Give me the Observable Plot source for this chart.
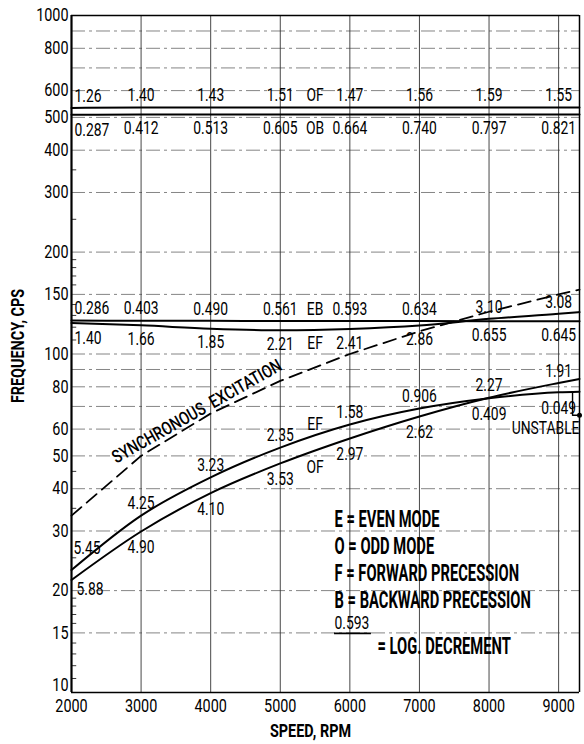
<!DOCTYPE html>
<html><head><meta charset="utf-8">
<script src="https://cdn.jsdelivr.net/npm/d3@7"></script>
<script src="https://cdn.jsdelivr.net/npm/@observablehq/plot@0.6"></script>
<style>body{margin:0;background:#fff;}</style>
</head><body><div id="chart"></div>
<script>
// ---- data ----
const rpm = [2000, 3000, 4000, 5000, 6000, 7000, 8000, 9000, 9300];
const ofTop = [533, 535, 535, 535, 535, 535, 535, 535, 535];
const obTop = [509, 510, 510, 510, 510, 510, 510, 510, 510];
const ebMid = [125.5, 125.4, 125.3, 125.2, 125.2, 125.1, 125.0, 124.9, 124.9];
const efMid = [123.5, 121.5, 118.8, 117.5, 118.5, 121.3, 127.0, 131.5, 133.0];
const efLow = [23.0, 33.3, 43.2, 52.9, 61.9, 69.0, 74.0, 77.1, 77.4];
const ofLow = [21.5, 29.9, 38.8, 47.5, 56.3, 65.4, 74.3, 82.1, 84.4];
const syncExc = [33.3, 50, 66.7, 83.3, 100, 116.7, 133.3, 150, 155];

const labelRpm = [2000, 3000, 4000, 5000, 6000, 7000, 8000, 9000];
const ofTopDec = ["1.26", "1.40", "1.43", "1.51", "1.47", "1.56", "1.59", "1.55"];
const obTopDec = ["0.287", "0.412", "0.513", "0.605", "0.664", "0.740", "0.797", "0.821"];
const ebMidDec = ["0.286", "0.403", "0.490", "0.561", "0.593", "0.634", "0.655", "0.645"];
const efMidDec = ["1.40", "1.66", "1.85", "2.21", "2.41", "2.86", "3.10", "3.08"];
const efLowDec = ["5.45", "4.25", "3.23", "2.35", "1.58", "0.906", "0.409", "0.049"];
const ofLowDec = ["5.88", "4.90", "4.10", "3.53", "2.97", "2.62", "2.27", "1.91"];
const modeRpm = 5500;

const unstableMark = [[9200, 77.2], [9200, 65.9], [9300, 65.9]];
const unstableText = "UNSTABLE";
const syncText = "SYNCHRONOUS  EXCITATION";
const syncTextRpm = 3860;

const xTicks = [2000, 3000, 4000, 5000, 6000, 7000, 8000, 9000];
const xGrid = [3000, 4000, 5000, 6000, 7000, 8000, 9000];
const yTicks = [10, 15, 20, 30, 40, 50, 60, 80, 100, 150, 200, 300, 400, 500, 600, 800, 1000];
const yGrid = [15, 20, 30, 40, 50, 60, 70, 80, 90, 100, 150, 200, 300, 400, 500, 600, 700, 800, 900];
const yMinor = [11, 12, 13, 14, 16, 17, 18, 19, 25, 35, 45, 110, 120, 130, 140, 160, 170, 180, 190, 250, 350];

const legendLines = ["E = EVEN MODE", "O = ODD MODE", "F = FORWARD PRECESSION", "B = BACKWARD PRECESSION"];
const legendSample = "0.593";
const legendUnderline = {rpm1: 5780, rpm2: 6310, value: 14.95};
const legendDecrement = "= LOG. DECREMENT";
const xTitle = "SPEED, RPM";
const yTitle = "FREQUENCY, CPS";

// ---- build tables ----
function valAt(series, r) {
  const i = rpm.indexOf(r);
  if (i >= 0) return series[i];
  const j = rpm.findIndex(v => v > r);
  const t = (r - rpm[j - 1]) / (rpm[j] - rpm[j - 1]);
  return Math.exp(Math.log(series[j - 1]) * (1 - t) + Math.log(series[j]) * t);
}
const pairs = [
  {a: ofTop, b: obTop, aDec: ofTopDec, bDec: obTopDec, aName: "OF", bName: "OB", low: false},
  {a: ebMid, b: efMid, aDec: ebMidDec, bDec: efMidDec, aName: "EB", bName: "EF", low: false},
  {a: efLow, b: ofLow, aDec: efLowDec, bDec: ofLowDec, aName: "EF", bName: "OF", low: true}
];
const labels = [];
for (const p of pairs) {
  for (const [s, o, dec, name] of [[p.a, p.b, p.aDec, p.aName], [p.b, p.a, p.bDec, p.bName]]) {
    labelRpm.forEach((r, i) => {
      const v = valAt(s, r);
      labels.push({rpm: r, value: v, text: dec[i], above: v > valAt(o, r), start: r === 2000, low: p.low});
    });
    const v = valAt(s, modeRpm);
    labels.push({rpm: modeRpm, value: v, text: name, above: v > valAt(o, modeRpm), start: false, low: p.low});
  }
}
const curves = [ofTop, obTop, ebMid, efMid, efLow, ofLow].map(s => rpm.map((r, i) => ({rpm: r, value: s[i]})));
const sync = rpm.map((r, i) => ({rpm: r, value: syncExc[i]}));

const F = "Roboto, sans-serif";
const FS = 18;
const labelGroups = [
  {f: d => d.above && !d.start, dy: -12, dx: 0, anchor: "middle"},
  {f: d => !d.above && !d.start && !d.low, dy: 14, dx: 0, anchor: "middle"},
  {f: d => !d.above && !d.start && d.low, dy: 16, dx: 0, anchor: "middle"},
  {f: d => d.above && d.start && !d.low, dy: -12, dx: 3, anchor: "start"},
  {f: d => !d.above && d.start && !d.low, dy: 15, dx: 3, anchor: "start"},
  {f: d => d.above && d.start && d.low, dy: -22, dx: 2, anchor: "start"},
  {f: d => !d.above && d.start && d.low, dy: 9, dx: 5, anchor: "start"}
];

const chart = Plot.plot({
  width: 584, height: 744,
  marginLeft: 71, marginRight: 5, marginTop: 15, marginBottom: 52,
  style: {fontFamily: F, fontSize: FS + "px", background: "white", color: "black"},
  x: {domain: [2000, 9300], axis: null},
  y: {type: "log", domain: [10, 1000], axis: null},
  marks: [
    Plot.ruleY(yGrid, {stroke: "#666", strokeWidth: 0.8, strokeDasharray: "14,4,3,4"}),
    Plot.ruleX(xGrid, {stroke: "#333", strokeWidth: 0.9}),
    Plot.ruleY(yMinor, {x1: 2000, x2: 2075, stroke: "#222", strokeWidth: 0.9}),
    ...curves.map(c => Plot.line(c, {x: "rpm", y: "value", curve: "monotone-x", stroke: "black", strokeWidth: 2})),
    Plot.line(sync, {x: "rpm", y: "value", stroke: "black", strokeWidth: 1.8, strokeDasharray: "13,7"}),
    Plot.line(unstableMark, {x: d => d[0], y: d => d[1], stroke: "black", strokeWidth: 1.4}),
    Plot.dot([unstableMark[2]], {x: d => d[0], y: d => d[1], r: 2.5, fill: "black"}),
    // axes tick labels
    Plot.text(yTicks.filter(d => d > 10), {x: 2000, y: d => d, text: d => String(d), textAnchor: "end", dx: -3, fontSize: FS, ariaDescription: "axis-labels"}),
    Plot.text(yTicks.filter(d => d === 10), {x: 2000, y: d => d, text: d => String(d), textAnchor: "end", dx: -3, dy: -7, fontSize: FS, ariaDescription: "axis-labels"}),
    Plot.text(xTicks, {x: d => d, y: 10, text: d => String(d), dy: 14, fontSize: FS, ariaDescription: "axis-labels"}),
    // inline labels
    ...labelGroups.map(g => Plot.text(labels.filter(g.f), {x: "rpm", y: "value", text: "text", dy: g.dy, dx: g.dx, textAnchor: g.anchor, fontSize: FS, fill: "black", ariaDescription: "inline-labels"})),
    Plot.text([unstableText], {x: 9300, y: 60.2, text: d => d, textAnchor: "end", fontSize: FS, ariaDescription: "inline-labels"}),
    Plot.text([syncText], {x: syncTextRpm, y: valAt(syncExc, syncTextRpm), text: d => d, rotate: -29.5, dx: -4, dy: -8, fontSize: 18, fontWeight: 500, ariaDescription: "sync-label"}),
    Plot.text([legendLines.join("\n")], {frameAnchor: "top-left", dx: 263, dy: 492, text: d => d, lineAnchor: "top", lineHeight: 1.18, textAnchor: "start", fontSize: 23, fontWeight: "bold", ariaDescription: "legend"}),
    Plot.text([legendSample], {frameAnchor: "top-left", dx: 263, dy: 608, text: d => d, textAnchor: "start", fontSize: FS, lineAnchor: "middle", ariaDescription: "inline-labels"}),
    Plot.ruleY([legendUnderline], {y: "value", x1: "rpm1", x2: "rpm2", stroke: "black", strokeWidth: 1.6}),
    Plot.text([legendDecrement], {frameAnchor: "top-left", dx: 306, dy: 622, text: d => d, textAnchor: "start", fontSize: 23, fontWeight: "bold", ariaDescription: "legend"}),
    Plot.text([yTitle], {frameAnchor: "left", dx: -53, dy: -8, rotate: -90, textAnchor: "middle", text: d => d, fontSize: 18, fontWeight: "bold", ariaDescription: "axis-title"}),
    Plot.text([xTitle], {frameAnchor: "bottom", dx: -15, dy: 44, textAnchor: "middle", text: d => d, fontSize: 18, fontWeight: "bold", ariaDescription: "axis-title"}),
    Plot.ruleX([2000], {stroke: "black", strokeWidth: 2.2}),
    Plot.ruleX([9300], {stroke: "black", strokeWidth: 1.5}),
    Plot.ruleY([10, 1000], {stroke: "black", strokeWidth: 1.5})
  ]
});
document.getElementById("chart").appendChild(chart);

// horizontally condense text to mimic the narrow drafting lettering
function condense(desc, sx) {
  chart.querySelectorAll(`[aria-description="${desc}"] text`).forEach(t => {
    const tr = t.getAttribute("transform");
    if (tr) t.setAttribute("transform", tr + ` scale(${sx},1)`);
    else {
      const x = +t.getAttribute("x") || 0, y = +t.getAttribute("y") || 0;
      t.removeAttribute("x"); t.removeAttribute("y");
      t.setAttribute("transform", `translate(${x},${y}) scale(${sx},1)`);
    }
  });
}
condense("inline-labels", 0.77);
condense("sync-label", 0.8);
condense("legend", 0.64);
condense("axis-title", 0.8);
condense("axis-labels", 0.8);
chart.querySelectorAll('[aria-description="sync-label"] text').forEach(t => t.style.whiteSpace = "pre");
</script>
</body></html>
